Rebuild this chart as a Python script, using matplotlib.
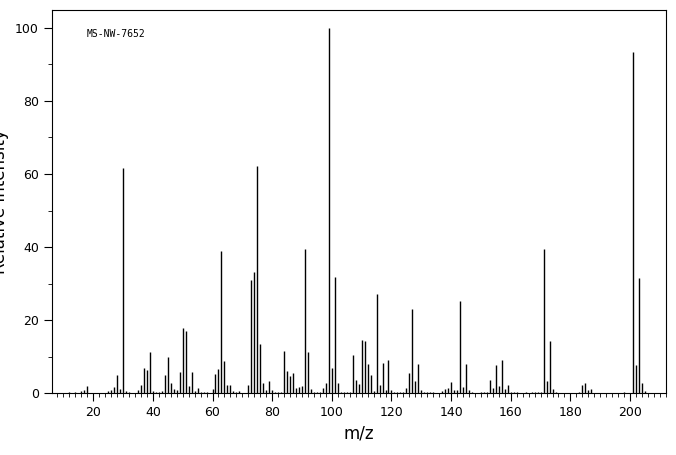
import matplotlib
matplotlib.use("Agg")
import matplotlib.pyplot as plt
from matplotlib.ticker import MultipleLocator

# m/z and relative intensity
mz = [12, 14, 16, 17, 18, 25, 26, 27, 28, 29, 30, 31, 32, 35, 36, 37, 38, 39,
      40, 41, 42, 43, 44, 45, 46, 47, 48, 49, 50, 51, 52, 53, 54, 55, 56, 57, 58,
      60, 61, 62, 63, 64, 65, 66, 67, 68, 69, 72, 73, 74, 75, 76, 77, 78, 79, 80,
      81, 82, 83, 84, 85, 86, 87, 88, 89, 90, 91, 92, 93, 94, 95, 96, 97, 98, 99,
      100, 101, 102, 103, 104, 105, 106, 107, 108, 109, 110, 111, 112, 113, 114,
      115, 116, 117, 118, 119, 120, 121, 122, 123, 124, 125, 126, 127, 128, 129,
      130, 131, 132, 133, 134, 137, 138, 139, 140, 141, 142, 143, 144, 145, 146,
      147, 150, 151, 152, 153, 154, 155, 156, 157, 158, 159, 160, 161, 162, 165,
      167, 168, 169, 170, 171, 172, 173, 174, 175, 183, 184, 185, 186, 187, 198,
      201, 202, 203, 204, 205]
intensity = [0.3, 0.3, 0.6, 0.9, 2.0, 0.6, 0.9, 1.7, 5.0, 1.2, 61.7, 0.6, 0.3,
             0.9, 2.3, 6.9, 6.4, 11.3, 0.6, 0.3, 0.3, 0.6, 5.0, 10.0, 2.8, 1.2,
             0.9, 5.8, 17.9, 17.1, 2.0, 5.8, 0.6, 1.5, 0.3, 0.3, 0.3, 1.2, 5.3,
             6.7, 39.0, 8.9, 2.3, 2.3, 0.6, 0.3, 0.6, 2.3, 31.0, 33.2, 62.3, 13.5,
             2.8, 0.9, 3.4, 0.9, 0.3, 0.3, 0.3, 11.6, 6.1, 4.7, 5.5, 1.5, 1.7, 2.0,
             39.5, 11.3, 1.2, 0.3, 0.3, 0.3, 1.5, 2.8, 100.0, 6.9, 31.9, 2.8, 0.3,
             0.3, 0.3, 0.3, 10.5, 3.7, 2.6, 14.6, 14.3, 8.0, 5.0, 0.6, 27.2, 2.3,
             8.3, 0.9, 9.1, 0.9, 0.3, 0.3, 0.3, 0.3, 1.5, 5.5, 23.1, 3.4, 8.0, 0.9,
             0.3, 0.3, 0.3, 0.3, 0.6, 1.2, 1.5, 3.1, 0.9, 0.9, 25.3, 1.7, 8.0,
             0.9, 0.3, 0.3, 0.3, 0.3, 3.7, 1.5, 7.7, 2.0, 9.1, 1.2, 2.3, 0.3, 0.3,
             0.3, 0.3, 0.3, 0.3, 0.3, 0.3, 39.5, 3.4, 14.3, 1.2, 0.3, 0.3, 2.3, 2.8,
             0.9, 1.2, 0.3, 93.5, 7.7, 31.6, 2.8, 0.6]
label = "MS-NW-7652"

fig = plt.figure(figsize=(6.76, 4.55), dpi=100)
ax = fig.add_axes([0.077, 0.136, 0.908, 0.842])
ax.vlines(mz, 0, intensity, color="black", linewidth=1)

ax.set_xlim(6.2, 212)
ax.set_ylim(0, 104.9)
ax.xaxis.set_major_locator(MultipleLocator(20))
ax.xaxis.set_minor_locator(MultipleLocator(2))
ax.yaxis.set_major_locator(MultipleLocator(20))
ax.yaxis.set_minor_locator(MultipleLocator(10))
ax.tick_params(which="major", direction="out", length=6, labelsize=9)
ax.tick_params(which="minor", direction="out", length=3)
ax.set_xlabel("m/z", fontsize=12)
ax.set_ylabel("Relative Intensity", fontsize=12)
ax.text(0.057, 0.93, label, transform=ax.transAxes, fontsize=7,
        family="DejaVu Sans Mono")

fig.savefig("out.png", dpi=100)
